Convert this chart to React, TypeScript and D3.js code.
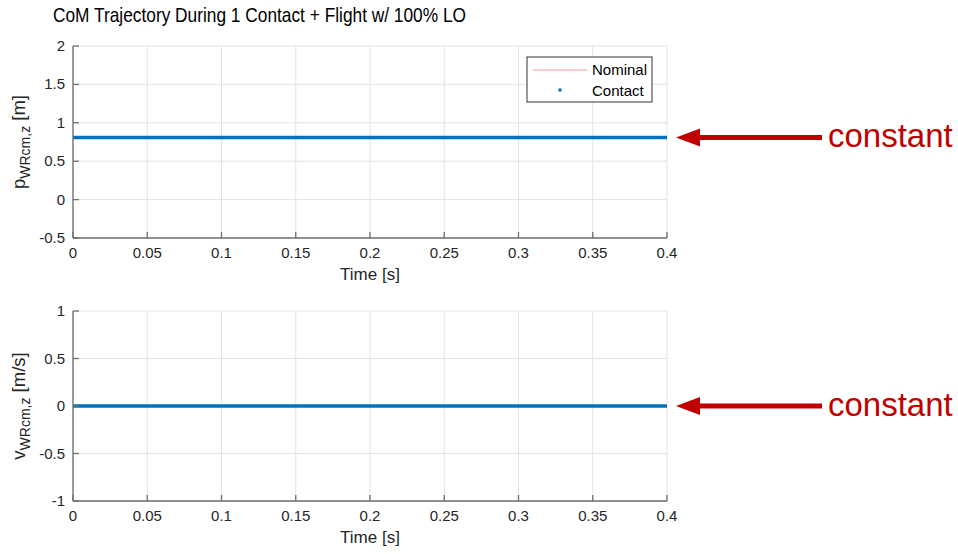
import * as d3 from "d3";

const W = 958;
const H = 554;

const timeS = [0, 0.05, 0.1, 0.15, 0.2, 0.25, 0.3, 0.35, 0.4];
const posZ = [0.81, 0.81, 0.81, 0.81, 0.81, 0.81, 0.81, 0.81, 0.81];
const velZ = [0, 0, 0, 0, 0, 0, 0, 0, 0];

const xTicks = [0, 0.05, 0.1, 0.15, 0.2, 0.25, 0.3, 0.35, 0.4];
const posTicks = [-0.5, 0, 0.5, 1, 1.5, 2];
const velTicks = [-1, -0.5, 0, 0.5, 1];

const FONT = "'Liberation Sans', Arial, Helvetica, sans-serif";
const BLUE = "#0072bd";
const RED = "#c00000";
const AXIS = "#6e6e6e";
const GRID = "#e3e3e3";
const TXT = "#262626";

const LEFT = 73;
const RIGHT = 667;

type PanelProps = {
  top: number;
  bottom: number;
  yDomain: [number, number];
  yTicks: number[];
  values: number[];
  ySub: string;
  unit: string;
  mainLetter: string;
  legend?: boolean;
};

const Panel = ({ top, bottom, yDomain, yTicks, values, ySub, unit, mainLetter, legend }: PanelProps) => {
  const x = d3.scaleLinear().domain([0, 0.4]).range([LEFT, RIGHT]);
  const y = d3.scaleLinear().domain(yDomain).range([bottom, top]);
  const line = d3
    .line<number>()
    .x((_, i) => x(timeS[i]))
    .y((d) => y(d));
  const fmt = (v: number) => String(v);
  const midY = (top + bottom) / 2;
  const ay = y(values[values.length - 1]);

  return (
    <g>
      {/* grid */}
      {xTicks.map((t) => (
        <line key={"gx" + t} x1={x(t)} x2={x(t)} y1={top} y2={bottom} stroke={GRID} strokeWidth={1} />
      ))}
      {yTicks.map((t) => (
        <line key={"gy" + t} x1={LEFT} x2={RIGHT} y1={y(t)} y2={y(t)} stroke={GRID} strokeWidth={1} />
      ))}

      {/* nominal + contact */}
      <path d={line(values) ?? ""} fill="none" stroke="#ff9999" strokeWidth={1} />
      <path d={line(values) ?? ""} fill="none" stroke={BLUE} strokeWidth={3.5} />

      {/* axes */}
      <line x1={LEFT} x2={LEFT} y1={top} y2={bottom} stroke={AXIS} strokeWidth={1.3} />
      <line x1={LEFT} x2={RIGHT} y1={bottom} y2={bottom} stroke={AXIS} strokeWidth={1.3} />
      {yTicks.map((t) => (
        <g key={"ty" + t}>
          <line x1={LEFT} x2={LEFT + 6} y1={y(t)} y2={y(t)} stroke={AXIS} strokeWidth={1.3} />
          <text x={LEFT - 8} y={y(t) + 5} textAnchor="end" fontSize={15} fill={TXT} fontFamily={FONT}>
            {fmt(t)}
          </text>
        </g>
      ))}
      {xTicks.map((t) => (
        <g key={"tx" + t}>
          <line x1={x(t)} x2={x(t)} y1={bottom} y2={bottom - 6} stroke={AXIS} strokeWidth={1.3} />
          <text x={x(t)} y={bottom + 20} textAnchor="middle" fontSize={15} fill={TXT} fontFamily={FONT}>
            {fmt(t)}
          </text>
        </g>
      ))}

      <text x={(LEFT + RIGHT) / 2} y={bottom + 42} textAnchor="middle" fontSize={17} fill={TXT} fontFamily={FONT}>
        Time [s]
      </text>

      <text
        transform={`translate(25, ${midY}) rotate(-90)`}
        textAnchor="middle"
        fontSize={18.5}
        fill={TXT}
        fontFamily={FONT}
      >
        <tspan>{mainLetter}</tspan>
        <tspan dy={5} fontSize={14}>{ySub}</tspan>
        <tspan dy={-5}>{" " + unit}</tspan>
      </text>

      {legend && (
        <g fontFamily={FONT} fontSize={15} fill="#000">
          <rect x={527} y={57} width={125} height={45} fill="#fff" stroke="#333" strokeWidth={1} />
          <line x1={533} x2={587} y1={70} y2={70} stroke="#ff9999" strokeWidth={1.2} />
          <text x={592} y={75}>Nominal</text>
          <circle cx={560} cy={90} r={1.8} fill={BLUE} />
          <text x={592} y={96}>Contact</text>
        </g>
      )}

      {/* annotation arrow */}
      <g>
        <line x1={696} x2={822} y1={ay} y2={ay} stroke={RED} strokeWidth={5} />
        <path d={`M676,${ay} L700,${ay - 9} L700,${ay + 9} Z`} fill={RED} />
        <text x={828} y={ay + 10} fontSize={33} fill={RED} fontFamily={FONT}>
          constant
        </text>
      </g>
    </g>
  );
};

export default function App() {
  return (
    <svg width={W} height={H} style={{ position: "absolute", left: 0, top: 0, background: "#fff" }}>
      <rect width={W} height={H} fill="#fff" />
      <text x={53} y={22} fontSize={21} fill="#000" fontFamily={FONT} textLength={413} lengthAdjust="spacingAndGlyphs">
        CoM Trajectory During 1 Contact + Flight w/ 100% LO
      </text>
      <Panel
        top={46}
        bottom={238}
        yDomain={[-0.5, 2]}
        yTicks={posTicks}
        values={posZ}
        mainLetter="p"
        ySub="WRcm,z"
        unit="[m]"
        legend
      />
      <Panel
        top={311}
        bottom={501}
        yDomain={[-1, 1]}
        yTicks={velTicks}
        values={velZ}
        mainLetter="v"
        ySub="WRcm,z"
        unit="[m/s]"
      />
    </svg>
  );
}
